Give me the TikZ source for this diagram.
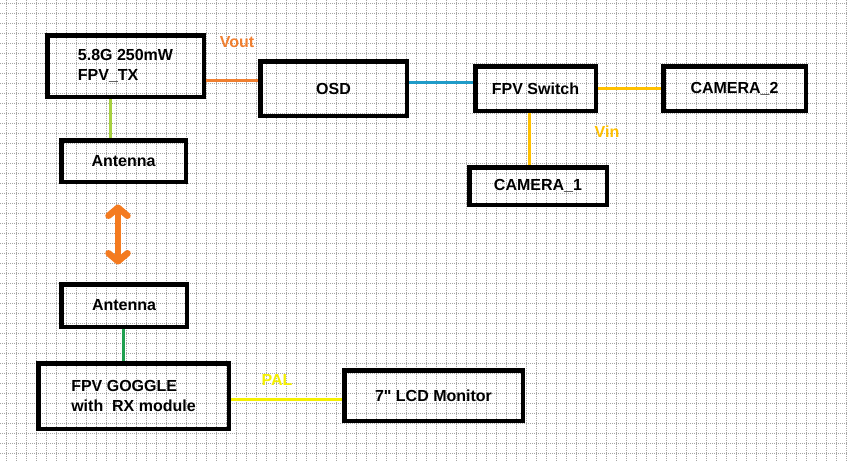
\documentclass[tikz,border=0pt]{standalone}
\usepackage{fontspec}
\setmainfont{Liberation Sans}
\newfontfamily\plainquotes{Liberation Sans}[Ligatures=ResetAll]
\usetikzlibrary{arrows.meta}

\definecolor{voutorange}{HTML}{F07F30}
\definecolor{linkblue}{HTML}{1E9BC8}
\definecolor{vingold}{HTML}{FFC000}
\definecolor{palyellow}{HTML}{F5F000}
\definecolor{antgreen}{HTML}{A8D040}
\definecolor{rxgreen}{HTML}{20A050}
\definecolor{radioorange}{HTML}{F47B20}

\begin{document}
\begin{tikzpicture}[x=1pt,y=-1pt,
 gridline/.style={gray!70,line width=0.7pt,dash pattern=on 1pt off 1pt},
 box/.style={draw=black,line width=4.5pt,rectangle,inner sep=0pt,
  font=\bfseries\fontsize{16}{19.5}\selectfont},
 tag/.style={inner sep=0pt,font=\bfseries\fontsize{16}{19.5}\selectfont},
 wire/.style={line width=3pt}]
 \useasboundingbox[fill=white] (0,0) rectangle (848,461);
 \foreach \gx in {6,16,...,846} \draw[gridline] (\gx,0) -- (\gx,461);
 \foreach \gy in {3,13,...,453} \draw[gridline] (0,\gy) -- (848,\gy);

 \node[box,minimum width=156.5pt,minimum height=61.5pt,align=left] (tx) at (125.5,66) {5.8G 250mW\\FPV\_TX};
 \node[box,minimum width=146.5pt,minimum height=54.5pt] (osd) at (333.5,88.5) {OSD};
 \node[box,minimum width=120.5pt,minimum height=44.5pt] (switch) at (535.5,88.5) {FPV Switch};
 \node[box,minimum width=142.5pt,minimum height=44.5pt] (cam2) at (734.5,88.5) {CAMERA\_2};
 \node[box,minimum width=137.5pt,minimum height=37.5pt] (cam1) at (538,186) {CAMERA\_1};
 \node[box,minimum width=124.5pt,minimum height=41.5pt] (txant) at (123.5,161) {Antenna};
 \node[box,minimum width=125.5pt,minimum height=42.5pt] (rxant) at (124,305.5) {Antenna};
 \node[box,minimum width=190.5pt,minimum height=65.5pt,align=left] (goggle) at (133.5,396) {FPV GOGGLE\\with~~RX module};
 \node[box,minimum width=178.5pt,minimum height=50.5pt] (lcd) at (433.5,395.5) {7{\plainquotes"} LCD Monitor};

 \node[tag,text=voutorange] (vout) at (237,42) {Vout};
 \node[tag,text=vingold] (vin) at (607,132) {Vin};
 \node[tag,text=palyellow] (pal) at (277,380) {PAL};

 \draw[wire,voutorange] ([yshift=-14pt]tx.east) -- ([yshift=8.5pt]osd.west);
 \draw[wire,linkblue] ([yshift=6.5pt]osd.east) -- ([yshift=6.5pt]switch.west);
 \draw[wire,vingold] (switch.east) -- (cam2.west);
 \draw[wire,vingold] ([xshift=-6.5pt]switch.south) -- ([xshift=-6.5pt]switch.south |- cam1.north);
 \draw[wire,antgreen] ([xshift=-15.5pt]tx.south) -- ([xshift=-15.5pt]tx.south |- txant.north);
 \draw[wire,rxgreen] ([xshift=-1pt]rxant.south) -- ([xshift=-1pt]rxant.south |- goggle.north);
 \draw[wire,palyellow] ([yshift=-3pt]goggle.east) -- ([yshift=-3pt]goggle.east -| lcd.west);
 \draw[radioorange,line width=6.5pt,line cap=round,
  {Straight Barb[length=8pt,width=19pt,round]}-{Straight Barb[length=8pt,width=19pt,round]},
  shorten <=20.5pt,shorten >=17.5pt] ([xshift=-5.5pt]txant.south) -- ([xshift=-5.5pt]txant.south |- rxant.north);
\end{tikzpicture}
\end{document}
